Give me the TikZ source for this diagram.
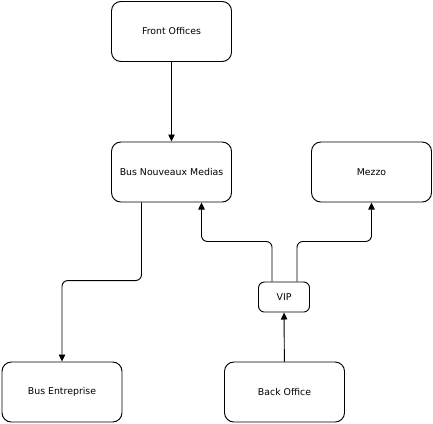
\documentclass[tikz,border=0pt]{standalone}
\usepackage{fontspec}
\setmainfont{DejaVu Sans}
\usetikzlibrary{arrows.meta,calc}

\begin{document}
\begin{tikzpicture}[
  x=0.03cm,y=-0.03cm,
  box/.style={draw,rounded corners=8,line width=0.8pt,
              minimum width=3.6cm,minimum height=1.8cm,
              text centered,font=\fontsize{8}{9.5}\selectfont,inner sep=0pt},
  small/.style={box,minimum width=1.53cm,minimum height=0.9cm,rounded corners=5},
  arr/.style={-{Triangle[length=6pt,width=5.5pt]},line width=0.8pt,rounded corners=5}
]
  \useasboundingbox (0,0) rectangle (433,423);
  \node[box] (fo) at (171.5,31.5)  {Front Offices};
  \node[box] (bnm) at (171.5,172)  {Bus Nouveaux Medias};
  \node[box] (mz) at (371.5,172)   {Mezzo};
  \node[small] (vip) at (284,297)  {VIP};
  \node[box] (be) at (62,392)      {Bus Entreprise};
  \node[box] (bo) at (284.5,392)   {Back Office};
  \draw[arr] (fo) -- (bnm);
  \draw[arr] ($(bnm.south)+(-30,0)$) |- ($(be.north)+(0,-81)$) -- (be.north);
  \draw[arr] ($(vip.north)+(-12,0)$) |- ($(bnm.south)+(30,39)$) -- ($(bnm.south)+(30,0)$);
  \draw[arr] ($(vip.north)+(13,0)$) |- ($(mz.south)+(0,39)$) -- (mz.south);
  \draw[arr] (bo) -- (vip);
\end{tikzpicture}
\end{document}
